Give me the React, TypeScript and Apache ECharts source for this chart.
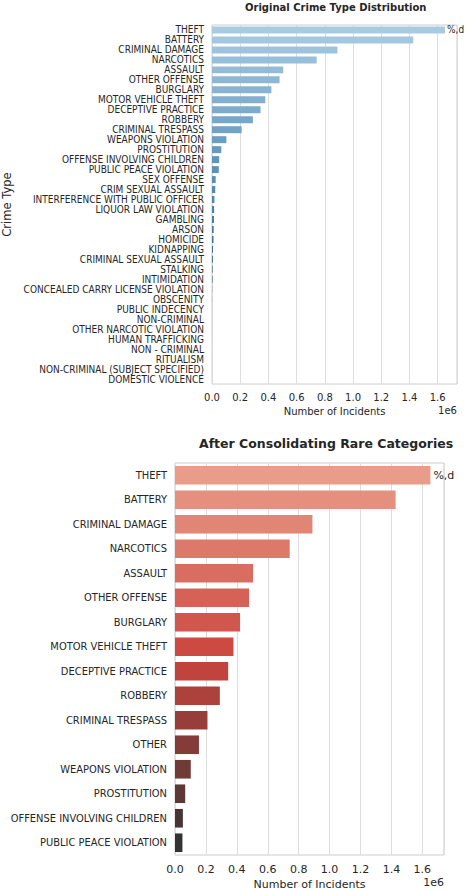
import React, { useEffect, useRef } from "react";
import * as echarts from "echarts";

const origCategories = [
  "THEFT", "BATTERY", "CRIMINAL DAMAGE", "NARCOTICS", "ASSAULT", "OTHER OFFENSE",
  "BURGLARY", "MOTOR VEHICLE THEFT", "DECEPTIVE PRACTICE", "ROBBERY", "CRIMINAL TRESPASS",
  "WEAPONS VIOLATION", "PROSTITUTION", "OFFENSE INVOLVING CHILDREN", "PUBLIC PEACE VIOLATION",
  "SEX OFFENSE", "CRIM SEXUAL ASSAULT", "INTERFERENCE WITH PUBLIC OFFICER", "LIQUOR LAW VIOLATION",
  "GAMBLING", "ARSON", "HOMICIDE", "KIDNAPPING", "CRIMINAL SEXUAL ASSAULT", "STALKING",
  "INTIMIDATION", "CONCEALED CARRY LICENSE VIOLATION", "OBSCENITY", "PUBLIC INDECENCY",
  "NON-CRIMINAL", "OTHER NARCOTIC VIOLATION", "HUMAN TRAFFICKING", "NON - CRIMINAL",
  "RITUALISM", "NON-CRIMINAL (SUBJECT SPECIFIED)", "DOMESTIC VIOLENCE",
];
const origValues = [
  1652000, 1427000, 889000, 742000, 505000, 479000, 421000, 378000, 344000, 290000, 210000,
  102000, 66000, 51000, 48000, 26000, 23000, 17000, 15000, 14000, 12000, 11000, 7000, 6500,
  4500, 4000, 1200, 700, 200, 180, 120, 100, 40, 25, 10, 1,
];

const consCategories = [
  "THEFT", "BATTERY", "CRIMINAL DAMAGE", "NARCOTICS", "ASSAULT", "OTHER OFFENSE", "BURGLARY",
  "MOTOR VEHICLE THEFT", "DECEPTIVE PRACTICE", "ROBBERY", "CRIMINAL TRESPASS", "OTHER",
  "WEAPONS VIOLATION", "PROSTITUTION", "OFFENSE INVOLVING CHILDREN", "PUBLIC PEACE VIOLATION",
];
const consValues = [
  1652000, 1427000, 889000, 742000, 505000, 479000, 421000, 378000, 344000, 290000, 210000,
  155000, 102000, 66000, 51000, 48000,
];

const xTicks = [0, 0.2, 0.4, 0.6, 0.8, 1.0, 1.2, 1.4, 1.6];

const titleTop = "Original Crime Type Distribution";
const titleBottom = "After Consolidating Rare Categories";

function hexToRgb(h: string) {
  const n = parseInt(h.slice(1), 16);
  return [(n >> 16) & 255, (n >> 8) & 255, n & 255];
}
function blend(stops: string[], n: number) {
  const rgb = stops.map(hexToRgb);
  const out: string[] = [];
  for (let i = 0; i < n; i++) {
    const t = n === 1 ? 0 : i / (n - 1);
    const seg = Math.min(rgb.length - 2, Math.floor(t * (rgb.length - 1)));
    const f = t * (rgb.length - 1) - seg;
    const a = rgb[seg], b = rgb[seg + 1];
    const c = a.map((v, k) => Math.round(v + (b[k] - v) * f));
    out.push(`rgb(${c[0]},${c[1]},${c[2]})`);
  }
  return out;
}

const COND = "'DejaVu Sans Condensed', 'DejaVu Sans', sans-serif";
const SANS = "'DejaVu Sans', sans-serif";
const TXT = "#262626";

export default function App() {
  const ref = useRef<HTMLDivElement>(null);
  useEffect(() => {
    document.body.style.margin = "0";
    const chart = echarts.init(ref.current!, undefined, { renderer: "svg" });
    const bluePal = blend(["#a9cbe2", "#4884af", "#333333"], origCategories.length);
    const redPal = blend(["#e99c88", "#cb443e", "#333333"], consCategories.length);
    const fmt = (v: number) => {
      const m = v / 1e6;
      const ok = xTicks.some((t) => Math.abs(t - m) < 1e-6);
      return ok ? m.toFixed(1) : "";
    };
    const xAxisCommon = (grid: number, max: number, nameGap: number, fs: number, margin: number) => ({
      gridIndex: grid,
      type: "value",
      min: 0,
      max,
      interval: 200000,
      axisLine: { show: false },
      axisTick: { show: false },
      splitLine: { show: true, lineStyle: { color: "#dddddd", width: 1 } },
      axisLabel: { formatter: fmt, fontSize: fs, color: TXT, fontFamily: SANS, margin, showMaxLabel: false },
      name: "Number of Incidents",
      nameLocation: "middle",
      nameGap,
      nameTextStyle: { fontSize: fs, color: TXT, fontFamily: SANS },
    });
    const option: any = {
      animation: false,
      backgroundColor: "#ffffff",
      grid: [
        { left: 212, right: 9, top: 25, height: 359, show: true, borderColor: "#cccccc", borderWidth: 1, backgroundColor: "transparent", containLabel: false, outerBoundsMode: "none" },
        { left: 175, right: 22, top: 463, height: 392, show: true, borderColor: "#cccccc", borderWidth: 1, backgroundColor: "transparent", containLabel: false, outerBoundsMode: "none" },
      ],
      xAxis: [xAxisCommon(0, 1737000, 22, 10, 8), xAxisCommon(1, 1740000, 24, 11, 9)],
      yAxis: [
        {
          gridIndex: 0,
          type: "category",
          data: origCategories,
          inverse: true,
          axisLine: { show: false },
          axisTick: { show: false },
          axisLabel: { interval: 0, fontSize: 10, color: TXT, fontFamily: COND, margin: 8 },
          name: "Crime Type",
          nameLocation: "middle",
          nameGap: 199,
          nameRotate: 90,
          nameTextStyle: { fontSize: 11.5, color: TXT, fontFamily: SANS },
        },
        {
          gridIndex: 1,
          type: "category",
          data: consCategories,
          inverse: true,
          axisLine: { show: false },
          axisTick: { show: false },
          axisLabel: { interval: 0, fontSize: 11, color: TXT, fontFamily: COND, margin: 8 },
        },
      ],
      graphic: [
        { type: "text", x: 245, y: 7, style: { text: titleTop, align: "left", verticalAlign: "middle", fontSize: 10, fontWeight: "bold", fill: TXT, fontFamily: SANS } },
        { type: "text", x: 199, y: 443, style: { text: titleBottom, align: "left", verticalAlign: "middle", fontSize: 12.5, fontWeight: "bold", fill: TXT, fontFamily: SANS } },
        { type: "text", x: 457, y: 410, style: { text: "1e6", align: "right", verticalAlign: "middle", fontSize: 10, fill: TXT, fontFamily: SANS } },
        { type: "text", x: 444, y: 882, style: { text: "1e6", align: "right", verticalAlign: "middle", fontSize: 11, fill: TXT, fontFamily: SANS } },
      ],
      series: [
        {
          type: "bar",
          xAxisIndex: 0,
          yAxisIndex: 0,
          barCategoryGap: "30%",
          data: origValues.map((v, i) =>
            i === 0
              ? { value: v, label: { show: true, position: "right", distance: 2, formatter: "%,d", fontSize: 10, color: TXT, fontFamily: COND } }
              : v
          ),
          itemStyle: { color: (p: any) => bluePal[p.dataIndex] },
        },
        {
          type: "bar",
          xAxisIndex: 1,
          yAxisIndex: 1,
          barCategoryGap: "24%",
          data: consValues.map((v, i) =>
            i === 0
              ? { value: v, label: { show: true, position: "right", distance: 3, formatter: "%,d", fontSize: 11, color: TXT, fontFamily: SANS } }
              : v
          ),
          itemStyle: { color: (p: any) => redPal[p.dataIndex] },
        },
      ],
    };
    chart.setOption(option);
    return () => chart.dispose();
  }, []);
  return <div ref={ref} style={{ width: 466, height: 890 }} />;
}
